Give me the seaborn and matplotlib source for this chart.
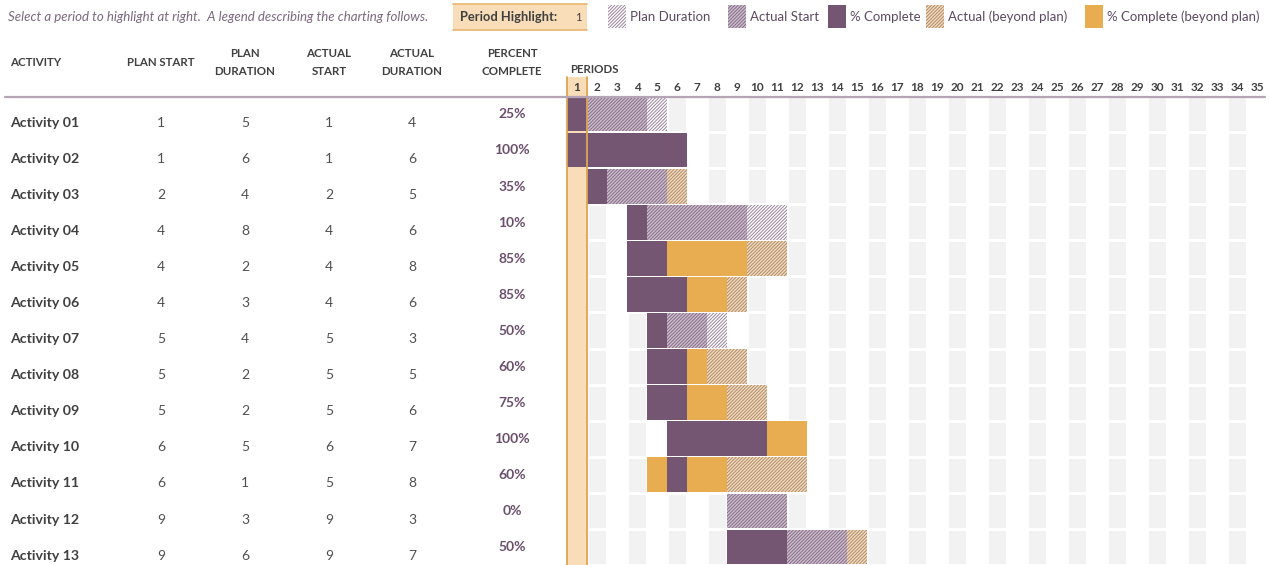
import numpy as np
import pandas as pd
import matplotlib.pyplot as plt
import seaborn as sns
from itertools import groupby
from matplotlib.colors import ListedColormap
from matplotlib.patches import Rectangle
from matplotlib.lines import Line2D

# ----- Data -----
activities = ['Activity 01', 'Activity 02', 'Activity 03', 'Activity 04', 'Activity 05',
              'Activity 06', 'Activity 07', 'Activity 08', 'Activity 09', 'Activity 10',
              'Activity 11', 'Activity 12', 'Activity 13']
plan_start = [1, 1, 2, 4, 4, 4, 5, 5, 5, 6, 6, 9, 9]
plan_duration = [5, 6, 4, 8, 2, 3, 4, 2, 2, 5, 1, 3, 6]
actual_start = [1, 1, 2, 4, 4, 4, 5, 5, 5, 6, 5, 9, 9]
actual_duration = [4, 6, 5, 6, 8, 6, 3, 5, 6, 7, 8, 3, 7]
percent_complete = [25, 100, 35, 10, 85, 85, 50, 60, 75, 100, 60, 0, 50]
periods = list(range(1, 36))
highlight_period = 1

df = pd.DataFrame({'activity': activities, 'plan_start': plan_start, 'plan_duration': plan_duration,
                   'actual_start': actual_start, 'actual_duration': actual_duration,
                   'pct': percent_complete})

# ----- Styles -----
PURPLE = '#745673'
ORANGE = '#E8AC51'
HILITE = '#F8DDB8'
HILITE_EDGE = '#DDA553'
HATCH = '//////////'
styles = {
    'plan': dict(fc='white', hatch=HATCH, hc='#9A849C'),
    'actual': dict(fc='#CDBFCE', hatch=HATCH, hc='#856B85'),
    'complete': dict(fc=PURPLE, hatch=None, hc=PURPLE),
    'actual_beyond': dict(fc='#F4DCBD', hatch=HATCH, hc='#AC8A6C'),
    'complete_beyond': dict(fc=ORANGE, hatch=None, hc=ORANGE),
}


def cell_status(r, p):
    in_plan = r.plan_start <= p <= r.plan_start + r.plan_duration - 1
    in_actual = r.actual_start <= p <= r.actual_start + r.actual_duration - 1
    in_pct = (r.actual_start <= p <= r.actual_start + r.actual_duration) and \
        (p < int(r.actual_start + r.actual_duration * r.pct / 100) or p == r.actual_start) and r.pct > 0
    if in_pct:
        return 'complete' if in_plan else 'complete_beyond'
    if in_actual:
        return 'actual' if in_plan else 'actual_beyond'
    if in_plan:
        return 'plan'
    return None


sns.set_theme(style='white')
plt.rcParams['font.family'] = ['Lato', 'DejaVu Sans']
plt.rcParams['hatch.linewidth'] = 0.7

W, H = 1270, 565


def fx(x):
    return x / W


def fy(y):
    return 1 - y / H


fig = plt.figure(figsize=(12.7, 5.65), dpi=100)

# ----- Gantt grid -----
ax = fig.add_axes([fx(567), 0, fx(700), 469 / H])
bg = np.array([[1 if p % 2 == 0 else 0 for p in periods] for _ in activities])
sns.heatmap(bg, ax=ax, cmap=ListedColormap(['white', '#F2F2F2']), vmin=-0.5, vmax=1.5,
            cbar=False, linewidths=0.9, linecolor='white')

ax.set_xticks(np.arange(len(periods)) + 0.5)
ax.set_xticklabels(periods, fontsize=8.5, fontweight='bold', color='#404040', rotation=0)
ax.xaxis.tick_top()
ax.tick_params(axis='x', length=0, pad=2)
ax.xaxis.set_zorder(6)
ax.set_yticks([])
ax.set_xlim(0, len(periods))
ax.set_ylim(len(activities), 0)

# period highlight column (header cell + full column)
h0 = highlight_period - 1
ax.add_patch(Rectangle((h0, -0.53), 1, len(activities) + 0.53, facecolor=HILITE, edgecolor='none',
                       clip_on=False, zorder=2))

for i, r in enumerate(df.itertuples()):
    cells = [(p, cell_status(r, p)) for p in periods]
    for status, grp in groupby(cells, key=lambda c: c[1]):
        grp = list(grp)
        if status is None:
            continue
        st = styles[status]
        ax.barh(i + 0.5, len(grp), left=grp[0][0] - 1, height=0.96, color=st['fc'],
                hatch=st['hatch'], edgecolor=st['hc'], linewidth=0, zorder=3)

for xv in (h0, h0 + 1):
    ax.plot([xv, xv], [-0.53, len(activities)], color=HILITE_EDGE, lw=1.3, clip_on=False, zorder=4)

# ----- Table on the left -----
tax = fig.add_axes([0, 0, fx(567), 469 / H])
tax.set_xlim(0, 567)
tax.set_ylim(len(activities), 0)
tax.axis('off')

col_x = {'plan_start': 161, 'plan_duration': 245, 'actual_start': 329, 'actual_duration': 412}
for i, r in enumerate(df.itertuples()):
    tax.text(10, i + 0.74, r.activity, fontsize=10.2, fontweight='bold', color='#404040', va='center')
    for col, x in col_x.items():
        tax.text(x, i + 0.74, str(getattr(r, col)), fontsize=10, color='#505050',
                 ha='center', va='center')
    tax.text(512, i + 0.51, f'{r.pct}%', fontsize=10, fontweight='bold', color='#6A4F6C',
             ha='center', va='center')

# headers
hdr = dict(fontsize=8.3, fontweight='bold', color='#404040', va='center')
fig.text(fx(10), fy(62), 'ACTIVITY', ha='left', **hdr)
fig.text(fx(161), fy(62), 'PLAN START', ha='center', **hdr)
for x, (l1, l2) in [(245, ('PLAN', 'DURATION')), (329, ('ACTUAL', 'START')),
                    (412, ('ACTUAL', 'DURATION')), (512, ('PERCENT', 'COMPLETE'))]:
    fig.text(fx(x), fy(53.5), l1, ha='center', **hdr)
    fig.text(fx(x), fy(71.5), l2, ha='center', **hdr)
fig.text(fx(570), fy(69.5), 'PERIODS', ha='left', **hdr)

fig.add_artist(Line2D([fx(5), fx(1265)], [fy(96.5), fy(96.5)], color='#B5A4B6', lw=1.6))

# ----- Top bar: note, period highlight and legend -----
fig.text(fx(8), fy(17), 'Select a period to highlight at right.  A legend describing the charting follows.',
         fontsize=9.5, style='italic', color='#7B687E', va='center')

fig.add_artist(Rectangle((fx(453), fy(30)), fx(134), 26 / H, transform=fig.transFigure,
                         facecolor=HILITE, edgecolor='none'))
for yy in (4, 30):
    fig.add_artist(Line2D([fx(453), fx(587)], [fy(yy), fy(yy)], color='#E8B56E', lw=1.2))
fig.text(fx(460), fy(17), 'Period Highlight:', fontsize=9.3, fontweight='bold', color='#404040', va='center')
fig.text(fx(578), fy(17.5), str(highlight_period), fontsize=8, color='#404040', ha='center', va='center')

legend_items = [(608, 'plan', 'Plan Duration'), (728, 'actual', 'Actual Start'),
                (828, 'complete', '% Complete'), (926, 'actual_beyond', 'Actual (beyond plan)'),
                (1085, 'complete_beyond', '% Complete (beyond plan)')]
for x, key, label in legend_items:
    st = styles[key]
    fig.add_artist(Rectangle((fx(x), fy(28)), fx(18), 23 / H, transform=fig.transFigure,
                             facecolor=st['fc'], hatch=st['hatch'], edgecolor=st['hc'], linewidth=0))
    fig.text(fx(x + 22), fy(17), label, fontsize=9.5, color='#5C4A60', va='center')

fig.savefig('out.png', dpi=100)
